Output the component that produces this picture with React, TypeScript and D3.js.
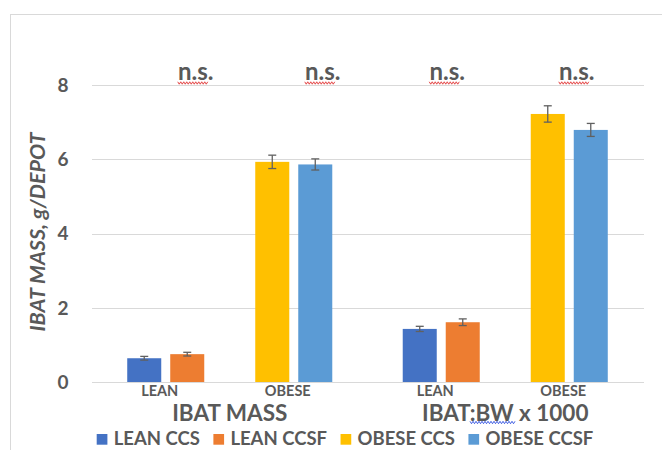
import React, { useEffect, useRef } from "react";
import * as d3 from "d3";

const groups = ["IBAT MASS", "IBAT:BW x 1000"];
const categories = ["LEAN", "OBESE"];
const seriesNames = ["LEAN CCS", "LEAN CCSF", "OBESE CCS", "OBESE CCSF"];
const seriesColors = ["#4472C4", "#ED7D31", "#FFC000", "#5B9BD5"];
// values per group (IBAT MASS, IBAT:BW x 1000)
const leanCCS = [0.64, 1.43];
const leanCCSF = [0.75, 1.61];
const obeseCCS = [5.93, 7.22];
const obeseCCSF = [5.86, 6.79];
const leanCCSErr = [0.05, 0.07];
const leanCCSFErr = [0.05, 0.09];
const obeseCCSErr = [0.18, 0.22];
const obeseCCSFErr = [0.15, 0.175];
const yTicks = [0, 2, 4, 6, 8];
const sigLabels = ["n.s.", "n.s.", "n.s.", "n.s."];
const sigNudge = [30, 29, 6, 7.5];

const FONT = "Lato, 'Open Sans', sans-serif";
const GRAY = "#595959";

function wave(x0: number, x1: number, y: number, amp: number, period: number) {
  const pts: [number, number][] = [];
  let i = 0;
  for (let x = x0; x <= x1; x += period / 2, i++) pts.push([x, y + (i % 2 ? amp : -amp)]);
  return d3.line()(pts) || "";
}

export default function App() {
  const ref = useRef<SVGSVGElement>(null);
  useEffect(() => {
    const svg = d3.select(ref.current!);
    svg.selectAll("*").remove();
    const W = 662, H = 450;
    const y = d3.scaleLinear().domain([0, 8]).range([382, 85]);
    const xGroup = d3.scaleBand<string>().domain(groups).range([92, 643]);
    const xCat = d3.scaleBand<string>().domain(categories).range([0, xGroup.bandwidth()]).paddingInner(0).paddingOuter(0.076);
    const xSub = d3.scaleBand<number>().domain([0, 1]).range([0, xCat.bandwidth()]).paddingInner(0.209).paddingOuter(0.593);

    svg.append("rect").attr("width", W).attr("height", H).attr("fill", "#fff");
    svg.append("rect").attr("x", 10.5).attr("y", 14.5).attr("width", 800).attr("height", 600)
      .attr("fill", "none").attr("stroke", "#d9d9d9").attr("stroke-width", 1);

    // gridlines
    svg.append("g").selectAll("line").data(yTicks).join("line")
      .attr("x1", 92).attr("x2", 644)
      .attr("y1", d => Math.round(y(d)) + 0.5).attr("y2", d => Math.round(y(d)) + 0.5)
      .attr("stroke", "#d9d9d9").attr("stroke-width", 1);
    svg.append("g").selectAll("text").data(yTicks).join("text")
      .attr("x", 63).attr("y", d => y(d)).attr("dy", "0.36em")
      .attr("text-anchor", "middle").attr("font-family", FONT).attr("font-weight", 700)
      .attr("font-size", 19).attr("fill", GRAY).text(d => String(d));

    // y title
    svg.append("text").attr("transform", "translate(37,232) rotate(-90)")
      .attr("text-anchor", "middle").attr("dy", "0.35em").attr("font-family", FONT)
      .attr("font-style", "italic").attr("font-weight", 700).attr("font-size", 21.5)
      .attr("fill", GRAY).text("IBAT MASS, g/DEPOT");

    type Bar = { g: number; cat: string; sub: number; series: number; v: number; e: number };
    const bars: Bar[] = [];
    groups.forEach((_, g) => {
      bars.push({ g, cat: "LEAN", sub: 0, series: 0, v: leanCCS[g], e: leanCCSErr[g] });
      bars.push({ g, cat: "LEAN", sub: 1, series: 1, v: leanCCSF[g], e: leanCCSFErr[g] });
      bars.push({ g, cat: "OBESE", sub: 0, series: 2, v: obeseCCS[g], e: obeseCCSErr[g] });
      bars.push({ g, cat: "OBESE", sub: 1, series: 3, v: obeseCCSF[g], e: obeseCCSFErr[g] });
    });
    const bx = (b: Bar) => xGroup(groups[b.g])! + xCat(b.cat)! + xSub(b.sub)!;
    svg.append("g").selectAll("rect").data(bars).join("rect")
      .attr("x", bx).attr("width", xSub.bandwidth())
      .attr("y", b => y(b.v)).attr("height", b => y(0) - y(b.v))
      .attr("fill", b => seriesColors[b.series]);
    // error bars
    const eg = svg.append("g").attr("stroke", "#606060").attr("stroke-width", 1.3).attr("fill", "none");
    bars.forEach(b => {
      const cx = bx(b) + xSub.bandwidth() / 2;
      const y1 = y(b.v + b.e), y2 = y(b.v - b.e);
      eg.append("line").attr("x1", cx).attr("x2", cx).attr("y1", y1).attr("y2", y2);
      eg.append("line").attr("x1", cx - 4).attr("x2", cx + 4).attr("y1", y1).attr("y2", y1);
      eg.append("line").attr("x1", cx - 4).attr("x2", cx + 4).attr("y1", y2).attr("y2", y2);
    });

    // category labels
    const cats: { g: number; c: string }[] = [];
    groups.forEach((_, g) => categories.forEach(c => cats.push({ g, c })));
    svg.append("g").selectAll("text").data(cats).join("text")
      .attr("x", d => xGroup(groups[d.g])! + xCat(d.c)! + xCat.bandwidth() / 2 - 6)
      .attr("y", 395.5).attr("text-anchor", "middle").attr("font-family", FONT)
      .attr("font-weight", 700).attr("font-size", 14.5).attr("fill", GRAY).text(d => d.c);
    // n.s.
    svg.append("g").selectAll("text").data(cats).join("text")
      .attr("x", (d, i) => xGroup(groups[d.g])! + xCat(d.c)! + xCat.bandwidth() / 2 + sigNudge[i])
      .attr("y", 80).attr("text-anchor", "middle").attr("font-family", FONT)
      .attr("font-weight", 700).attr("font-size", 24).attr("fill", GRAY).text((_, i) => sigLabels[i]);
    cats.forEach((d, i) => {
      const cx = xGroup(groups[d.g])! + xCat(d.c)! + xCat.bandwidth() / 2 + sigNudge[i];
      svg.append("path").attr("d", wave(cx - 18, cx + 13, 83, 1.2, 3))
        .attr("stroke", "#e03030").attr("stroke-width", 0.9).attr("fill", "none");
    });

    // group labels
    svg.append("g").selectAll("text").data(groups).join("text")
      .attr("x", d => xGroup(d)! + xGroup.bandwidth() / 2).attr("y", 421)
      .attr("text-anchor", "middle").attr("font-family", FONT).attr("font-weight", 700)
      .attr("font-size", 22.5).attr("fill", GRAY).text(d => d);
    svg.append("path").attr("d", wave(470, 516, 422.5, 1.2, 3))
      .attr("stroke", "#3050e0").attr("stroke-width", 0.9).attr("fill", "none");

    // legend
    let lx = 96.7;
    const lg = svg.append("g");
    seriesNames.forEach((name, i) => {
      lg.append("rect").attr("x", lx).attr("y", 434).attr("width", 10.7).attr("height", 10.7).attr("fill", seriesColors[i]);
      const t = lg.append("text").attr("x", lx + 17).attr("y", 444.5).attr("font-family", FONT)
        .attr("font-weight", 700).attr("font-size", 18.5).attr("fill", GRAY).text(name);
      const w = (t.node() as SVGTextElement).getComputedTextLength();
      lx = lx + 17 + w + 13.5;
    });
  }, []);
  return (
    <svg ref={ref} width={662} height={450} style={{ position: "absolute", left: 0, top: 0 }} />
  );
}
